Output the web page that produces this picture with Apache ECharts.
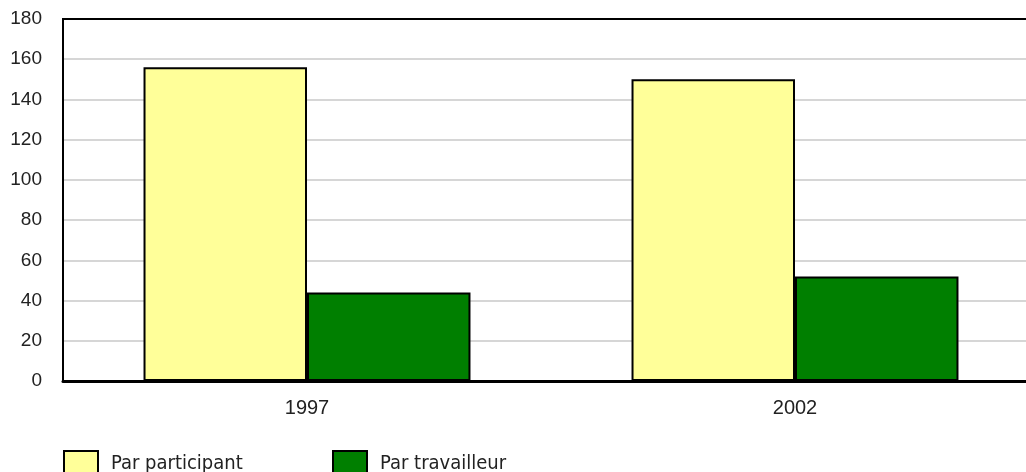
<!DOCTYPE html>
<html lang="fr">
<head>
    <meta charset="UTF-8">
    <title>Par participant / Par travailleur</title>
    <script src="https://cdn.jsdelivr.net/npm/echarts@6/dist/echarts.min.js"></script>
    <style>
        html, body { margin: 0; padding: 0; background: #fff; }
        #main { width: 1026px; height: 472px; }
    </style>
</head>
<body>
<div id="main"></div>
<script>
    // données
    var annees = ['1997', '2002'];
    var parParticipant = [156, 150];
    var parTravailleur = [44, 52];
    var ticksY = [0, 20, 40, 60, 80, 100, 120, 140, 160, 180];

    var myChart = echarts.init(document.getElementById('main'));

    var arial = '"Liberation Sans", Arial, sans-serif';
    var legendText = {
        fontFamily: '"DejaVu Sans Condensed", sans-serif',
        fontSize: 20,
        color: '#222',
        padding: [0, 0, 0, 8]
    };

    var option = {
        animation: false,
        backgroundColor: '#fff',
        grid: {
            show: true,
            left: 63,
            top: 19,
            width: 976,
            height: 362,
            outerBoundsMode: 'none',
            containLabel: false,
            borderColor: '#000',
            borderWidth: 2,
            backgroundColor: '#fff'
        },
        legend: [
            {
                data: ['Par participant'],
                icon: 'rect',
                left: 63,
                top: 450,
                padding: 0,
                itemWidth: 34,
                itemHeight: 26,
                itemStyle: {borderColor: '#000', borderWidth: 2},
                textStyle: legendText
            },
            {
                data: ['Par travailleur'],
                icon: 'rect',
                left: 332,
                top: 450,
                padding: 0,
                itemWidth: 34,
                itemHeight: 26,
                itemStyle: {borderColor: '#000', borderWidth: 2},
                textStyle: legendText
            }
        ],
        xAxis: [
            {
                type: 'category',
                data: annees,
                axisLine: {lineStyle: {color: '#000', width: 3}},
                axisTick: {show: false},
                axisLabel: {
                    margin: 17,
                    color: '#222',
                    fontFamily: arial,
                    fontSize: 20
                }
            },
            {
                // bordure haute du cadre
                type: 'category',
                data: annees,
                position: 'top',
                axisLine: {lineStyle: {color: '#000', width: 2}},
                axisTick: {show: false},
                axisLabel: {show: false}
            }
        ],
        yAxis: {
            type: 'value',
            min: ticksY[0],
            max: ticksY[ticksY.length - 1],
            interval: ticksY[1] - ticksY[0],
            axisLine: {show: true, lineStyle: {color: '#000', width: 2}},
            axisTick: {show: false},
            axisLabel: {
                margin: 21,
                color: '#222',
                fontFamily: arial,
                fontSize: 19
            },
            splitLine: {lineStyle: {color: '#c8c8c8', width: 1.5}}
        },
        series: [
            {
                name: 'Par participant',
                type: 'bar',
                data: parParticipant,
                barGap: '0%',
                barCategoryGap: '33%',
                itemStyle: {color: '#ffff99', borderColor: '#000', borderWidth: 2}
            },
            {
                name: 'Par travailleur',
                type: 'bar',
                data: parTravailleur,
                itemStyle: {color: '#007f00', borderColor: '#000', borderWidth: 2}
            }
        ]
    };

    myChart.setOption(option);
</script>
</body>
</html>
